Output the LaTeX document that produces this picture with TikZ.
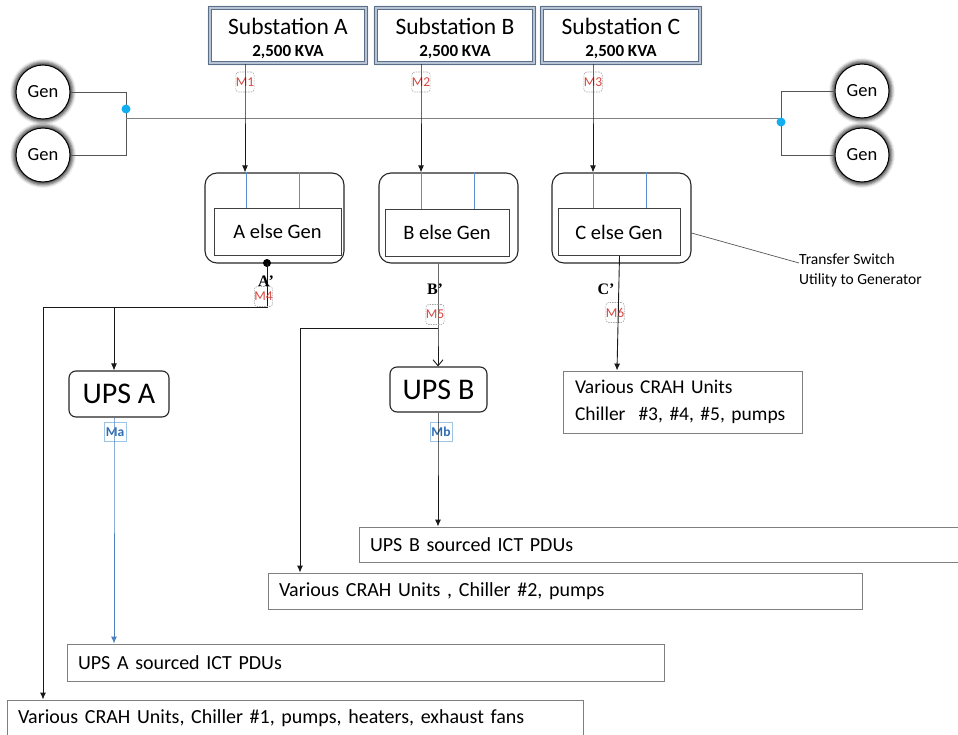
\documentclass[tikz,border=0pt]{standalone}
\usepackage{fontspec}
\setmainfont{Carlito}
\newfontfamily\primefont{Liberation Serif}
\usetikzlibrary{arrows.meta,shadows.blur,calc}
\definecolor{subcol}{HTML}{5B6E8A}
\definecolor{subin}{HTML}{B8C4D4}
\definecolor{mred}{HTML}{D9453F}
\definecolor{mblue}{HTML}{2E6DB4}
\definecolor{mbluebox}{HTML}{9DC3E6}
\definecolor{tsblue}{HTML}{5B8FD0}
\definecolor{dotblue}{HTML}{12AEEF}
\definecolor{upsline}{HTML}{4F81BD}
\definecolor{boxgray}{HTML}{7F7F7F}
\definecolor{wire}{HTML}{555555}
\begin{document}
\begin{tikzpicture}[x=1pt,y=-1pt,
  every node/.style={inner sep=0pt},
  subbox/.style={draw=subcol, double=subin, double distance=1.2pt, line width=1.3pt, fill=white,
    blur shadow={shadow xshift=0pt, shadow yshift=0pt, shadow blur radius=3pt, shadow opacity=50}},
  subtitle/.style={font=\fontsize{23.5}{25}\selectfont},
  subkva/.style={font=\bfseries\fontsize{17}{19}\selectfont},
  gen/.style={circle, draw=black, line width=1pt, fill=white, minimum size=54pt,
    font=\fontsize{18.5}{20}\selectfont,
    blur shadow={shadow xshift=0pt, shadow yshift=0pt, shadow scale=1.1, shadow blur radius=3pt, shadow opacity=75}},
  tsouter/.style={draw=black!85, line width=1.1pt, rounded corners=12pt, minimum width=139pt, minimum height=90pt},
  tsinner/.style={draw=black!75, line width=0.8pt, fill=white, minimum height=47pt, font=\fontsize{20.5}{22}\selectfont},
  ups/.style={draw=black!85, line width=1.1pt, rounded corners=7pt, fill=white, font=\fontsize{30}{32}\selectfont},
  meter/.style={draw=gray!70, dash pattern=on 1.5pt off 1pt, rounded corners=3pt, line width=0.6pt,
    minimum width=17pt, minimum height=20pt, text=mred, font=\fontsize{13.5}{14}\selectfont},
  bmeter/.style={draw=mbluebox, line width=0.6pt, minimum width=22pt, minimum height=19pt,
    text=mblue, font=\bfseries\fontsize{13.5}{14}\selectfont},
  loadbox/.style={draw=boxgray, line width=0.9pt, fill=white, inner xsep=11pt, align=left,
    font=\fontsize{20}{27}\selectfont},
  prime/.style={font=\primefont\bfseries\fontsize{16}{17}\selectfont},
  conn/.style={draw=black!90, line width=0.9pt},
  arr/.style={conn, -{Latex[length=7pt,width=6pt]}},
  wireline/.style={draw=wire, line width=0.8pt},
  busdot/.style={circle, fill=dotblue, minimum size=9pt}
]
\useasboundingbox (0,0) rectangle (958,735);

% ---------- substations ----------
\node[subbox, minimum width=156pt, minimum height=55pt] (subA) at (288,35.5) {};
\node[subbox, minimum width=158pt, minimum height=55pt] (subB) at (455,35.5) {};
\node[subbox, minimum width=158pt, minimum height=55pt] (subC) at (621,35.5) {};
\node[subtitle] (subAt) at (288,26) {Substation A};
\node[subtitle] (subBt) at (455,26) {Substation B};
\node[subtitle] (subCt) at (621,26) {Substation C};
\node[subkva] (subAk) at (288,52) {2,500 KVA};
\node[subkva] (subBk) at (455,52) {2,500 KVA};
\node[subkva] (subCk) at (621,52) {2,500 KVA};

% ---------- generators ----------
\node[gen] (genL1) at (43,92) {Gen};
\node[gen] (genL2) at (43,155) {Gen};
\node[gen] (genR1) at (862,91) {Gen};
\node[gen] (genR2) at (862,155) {Gen};
\coordinate (jl1) at (126,92);
\coordinate (jl2) at (126,155);
\coordinate (busL) at (126,118);
\coordinate (jr1) at (781,91);
\coordinate (jr2) at (781,155);
\coordinate (busR) at (781,118);
\draw[wireline] (genL1.east) -- (jl1) -- (jl2) -- (genL2.east);
\draw[wireline] (genR1.west) -- (jr1) -- (jr2) -- (genR2.west);
\draw[wireline, draw=gray] (busL) -- (busR);
\node[busdot] (dotL) at (126,109) {};
\node[busdot] (dotR) at (781,122) {};

% ---------- transfer switches ----------
\node[tsouter] (tsA) at (274.5,218) {};
\node[tsouter] (tsB) at (448.5,218) {};
\node[tsouter] (tsC) at (621.5,218) {};
\node[tsinner, minimum width=127pt] (tiA) at (277.5,231.5) {A else Gen};
\node[tsinner, minimum width=124pt] (tiB) at (447,232.5) {B else Gen};
\node[tsinner, minimum width=122pt] (tiC) at (619,232) {C else Gen};
\foreach \n/\xa/\xb in {A/246/299, B/421/474, C/593/646}{
  \draw[tsblue, line width=0.7pt] (ts\n.north -| \xa,0) -- (ti\n.north -| \xa,0);
  \draw[tsblue, line width=0.7pt] (ts\n.north -| \xb,0) -- (ti\n.north -| \xb,0);
}

% ---------- utility meters M1-M3 ----------
\node[meter] (m1) at (245,82) {M1};
\node[meter] (m2) at (421,82) {M2};
\node[meter] (m3) at (593,82) {M3};
\draw[arr] (subA.south -| m1) -- (m1.center) -- (tsA.north -| m1);
\draw[arr] (subB.south -| m2) -- (m2.center) -- (tsB.north -| m2);
\draw[arr] (subC.south -| m3) -- (m3.center) -- (tsC.north -| m3);

% ---------- transfer switch callout ----------
\node[font=\fontsize{15.5}{20}\selectfont, align=left, anchor=west] (tsnote) at (799,270) {Transfer Switch\\Utility to Generator};
\draw[wireline, line width=0.7pt] (tsC.east |- 0,233) -- (tsnote.west |- 0,263);

% ---------- UPS and loads ----------
\node[ups, minimum width=100pt, minimum height=46pt] (upsA) at (119,394) {UPS A};
\node[ups, minimum width=97pt, minimum height=45pt] (upsB) at (438.5,389.5) {UPS B};

\node[loadbox, text width=215pt, minimum height=62pt, inner xsep=12pt, font=\fontsize{19.5}{27}\selectfont] (loadC) at (682.5,402) {\mbox{Various CRAH Units}\\\mbox{Chiller\ \ \#3, \#4, \#5, pumps}};
\node[loadbox, text width=589pt, minimum height=35pt] (pduB) at (664.5,544.5) {UPS B sourced ICT PDUs};
\node[loadbox, text width=572pt, minimum height=36pt] (loadB) at (565,591) {Various CRAH Units , Chiller \#2, pumps};
\node[loadbox, text width=575pt, minimum height=37pt] (pduA) at (365.5,662.5) {UPS A sourced ICT PDUs};
\node[loadbox, text width=554pt, minimum height=36pt] (loadA) at (295,718) {Various CRAH Units, Chiller \#1, pumps, heaters, exhaust fans};

% ---------- branch A ----------
\node[circle, fill=black, minimum size=8pt] (dotA) at (267,263) {};
\coordinate (cA) at (267,307);
\coordinate (cAL) at (43,307);
\coordinate (cAU) at (114,307);
\draw[conn] (dotA.center) -- (cA) -- (cAL);
\draw[arr] (cAL) -- (cAL |- loadA.north);
\draw[arr] (cAU) -- (cAU |- upsA.north);
\node[prime] (lblA) at (266,281) {A’};
\node[meter] (m4) at (263.5,296.5) {M4};
\node[bmeter] (ma) at (115,432) {Ma};
\draw[conn, draw=upsline, -{Latex[length=7pt,width=6pt]}] (upsA.south -| 114,0) -- (ma.center -| 114,0) -- (pduA.north -| 114,0);

% ---------- branch B ----------
\coordinate (cB) at (438,328);
\coordinate (cBL) at (300,328);
\draw[conn, -{Straight Barb[length=6pt,width=10pt]}] (tsB.south -| cB) -- (cB) -- (upsB.north -| cB);
\draw[conn] (cB) -- (cBL);
\draw[arr] (cBL) -- (cBL |- loadB.north);
\node[prime] (lblB) at (435,289) {B’};
\node[meter] (m5) at (435,314.5) {M5};
\node[bmeter] (mb) at (441,432) {Mb};
\draw[arr] (upsB.south -| cB) -- (mb.center -| cB) -- (pduB.north -| cB);

% ---------- branch C ----------
\node[prime] (lblC) at (606,289) {C’};
\node[meter] (m6) at (615,312.5) {M6};
\draw[arr] (tiC.south -| 619.5,0) -- (loadC.north -| 617,0);
\end{tikzpicture}
\end{document}
